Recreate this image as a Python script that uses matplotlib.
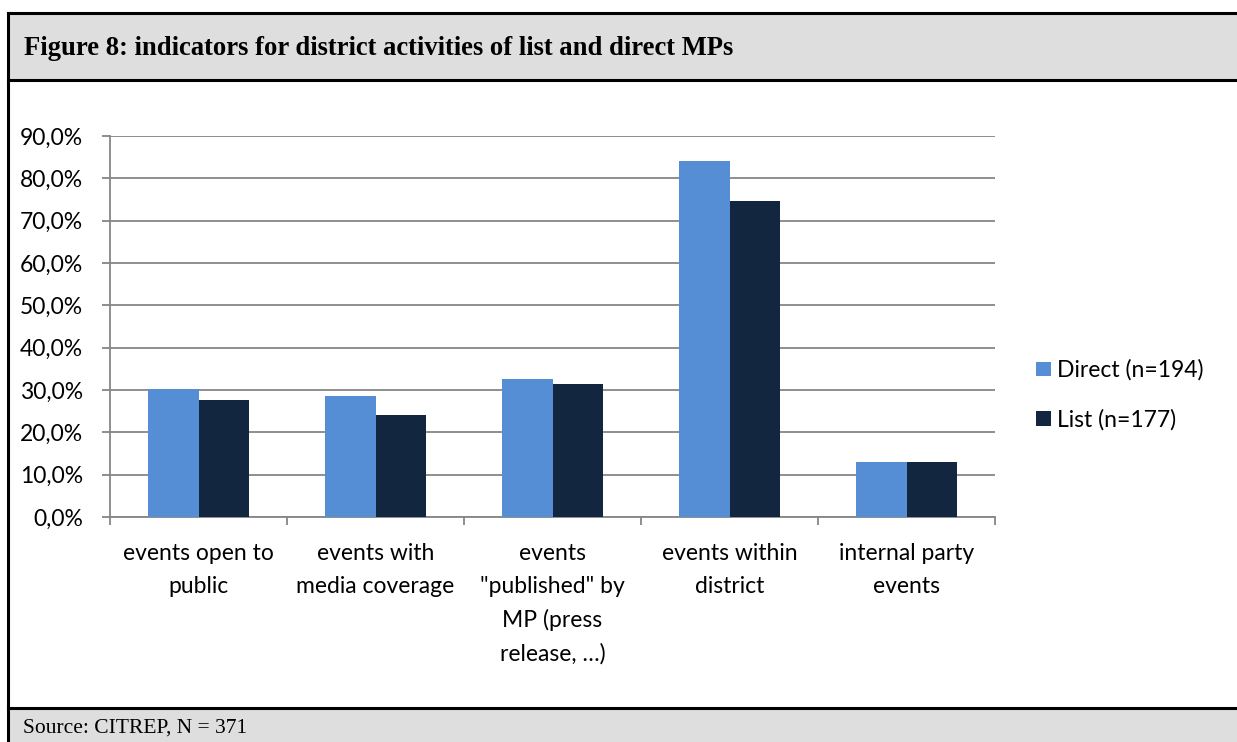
import matplotlib.pyplot as plt
import numpy as np
from matplotlib.patches import Rectangle
from matplotlib.ticker import FuncFormatter, FixedLocator

# survey shares per activity type
categories = ["events open to\npublic", "events with\nmedia coverage",
              "events\n\"published\" by\nMP (press\nrelease, \u2026)",
              "events within\ndistrict", "internal party\nevents"]
direct = [30.3, 28.6, 32.7, 84.0, 12.9]
list_mps = [27.6, 24.1, 31.4, 74.6, 12.9]
series_names = ["Direct (n=194)", "List (n=177)"]
title = "Figure 8: indicators for district activities of list and direct MPs"
source = "Source: CITREP, N = 371"

W, H = 1237, 742
GRID = '#868686'
plt.rcParams['font.family'] = ['Lato', 'DejaVu Sans']

fig = plt.figure(figsize=(W / 100, H / 100), dpi=100)

# page frame drawn in pixel coordinates
frame = fig.add_axes([0, 0, 1, 1], zorder=-1)
frame.set_xlim(0, W)
frame.set_ylim(H, 0)
frame.axis('off')
frame.add_patch(Rectangle((8, 13), W, 67, facecolor='#dedede', edgecolor='none'))
frame.add_patch(Rectangle((8, 708), W, 40, facecolor='#dedede', edgecolor='none'))
frame.plot([8, W], [13, 13], color='black', lw=2.2)
frame.plot([8, W], [80, 80], color='black', lw=2.2)
frame.plot([8, W], [708, 708], color='black', lw=2.2)
frame.plot([8, 8], [13, H], color='black', lw=2.2)
frame.text(24, 55, title, family='Liberation Serif', fontweight='bold',
           fontsize=19.2, va='baseline', ha='left')
frame.text(23, 733, source, family='Liberation Serif', fontsize=15.5,
           va='baseline', ha='left')

ax = fig.add_axes([110 / W, 1 - 517 / H, (995 - 110) / W, (517 - 136) / H])
x = np.arange(len(categories))
bw = 1 / 3.5
ax.bar(x - bw / 2, direct, bw, color='#558ed5', label=series_names[0], zorder=3)
ax.bar(x + bw / 2, list_mps, bw, color='#132640', label=series_names[1], zorder=3)

ax.set_xlim(-0.5, len(categories) - 0.5)
ax.set_ylim(0, 90)
ax.set_yticks(np.arange(0, 91, 10))
ax.yaxis.set_major_formatter(FuncFormatter(lambda v, p: f"{v:.1f}%".replace('.', ',')))
ax.grid(axis='y', color=GRID, lw=1.3, zorder=0)
ax.set_xticks(x)
ax.set_xticklabels(categories, linespacing=1.68)
ax.xaxis.set_minor_locator(FixedLocator(np.arange(-0.5, len(categories), 1)))
ax.tick_params(axis='x', which='major', length=0, pad=19, labelsize=16.5)
ax.tick_params(axis='x', which='minor', length=5.8, width=1.3, color=GRID)
ax.tick_params(axis='y', length=5.8, width=1.3, color=GRID, labelsize=16.5, pad=13.7)
for side in ['top', 'right']:
    ax.spines[side].set_visible(False)
for side in ['left', 'bottom']:
    ax.spines[side].set_color(GRID)
    ax.spines[side].set_linewidth(1.3)

fig.legend(loc='center left', bbox_to_anchor=(1036 / W, 1 - 395 / H), frameon=False,
           fontsize=16.5, handlelength=0.66, handleheight=0.57, handletextpad=0.26,
           labelspacing=1.23, borderpad=0, borderaxespad=0)

fig.savefig('out.png', dpi=100)
